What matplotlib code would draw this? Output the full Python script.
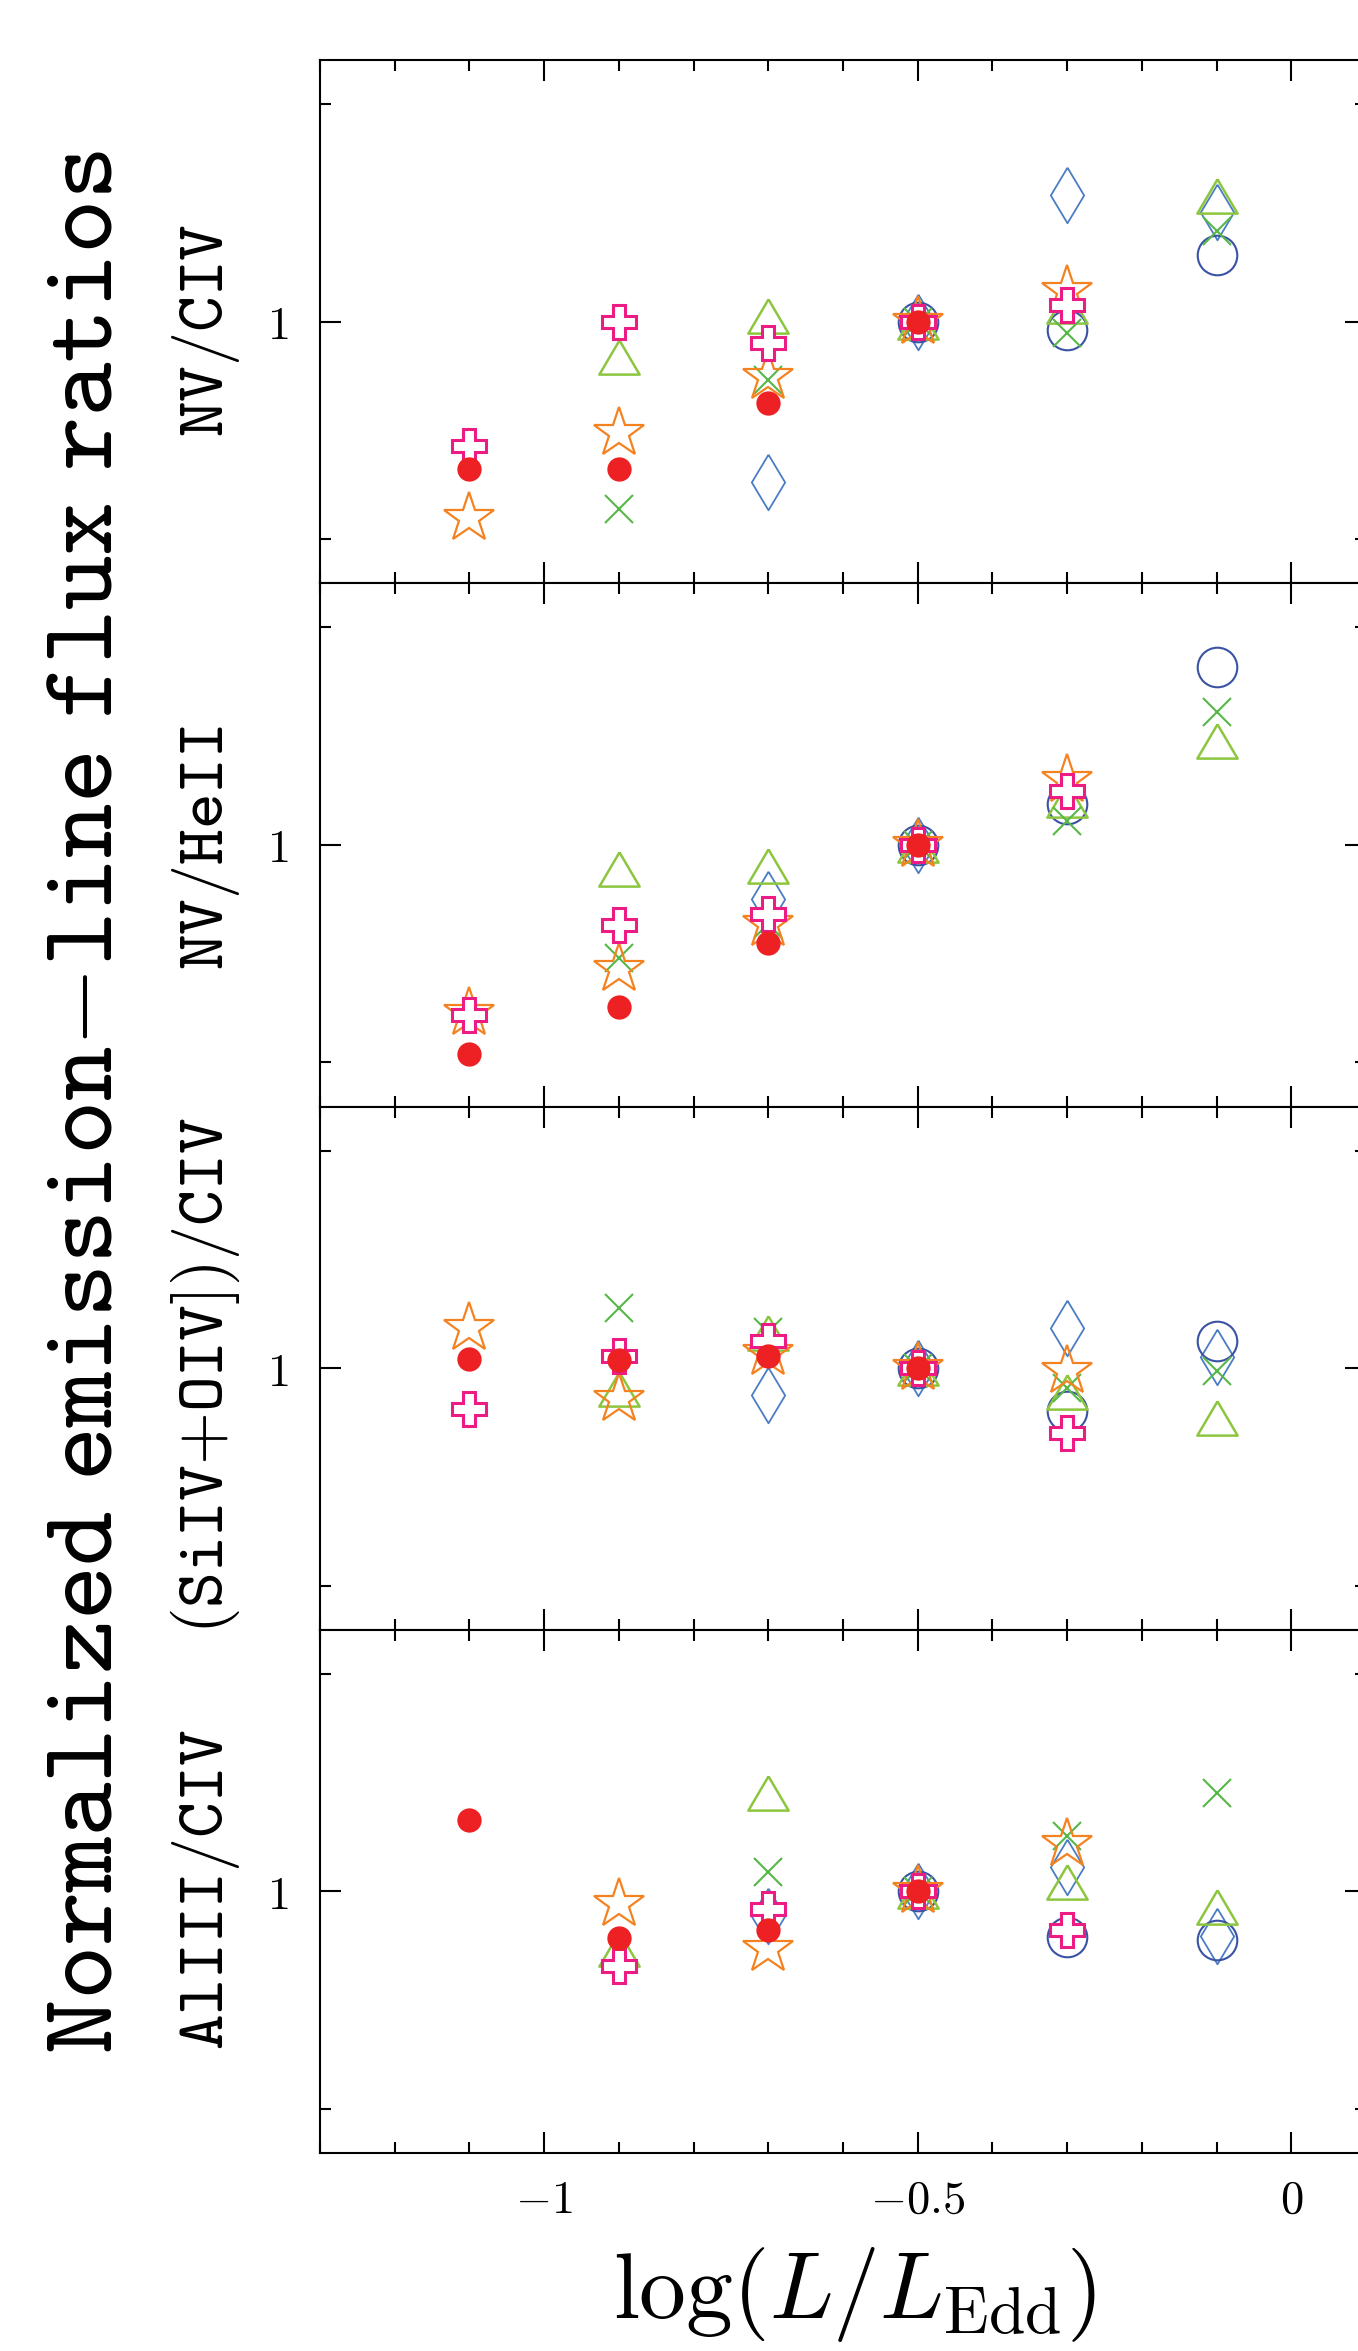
import numpy as np
import matplotlib
matplotlib.use("Agg")
import matplotlib.pyplot as plt
from matplotlib.markers import MarkerStyle
from matplotlib.ticker import MultipleLocator, FixedLocator, NullFormatter

plt.rcParams['mathtext.fontset'] = 'cm'

nan = np.nan

# x positions, log(L/L_Edd) bins
logL = [-1.1, -0.9, -0.7, -0.5, -0.3, -0.1]

panel_labels = [r'$\mathtt{NV/CIV}$', r'$\mathtt{NV/HeII}$',
                r'$\mathtt{(SiIV{+}OIV])/CIV}$', r'$\mathtt{AlIII/CIV}$']

# normalized ratios, one list per sample, per panel
# panel 1: NV/CIV
p1_dot   = [0.625, 0.625, 0.772, 1.0, nan, nan]
p1_star  = [0.535, 0.700, 0.839, 1.0, 1.101, nan]
p1_cross = [0.672, 1.000, 0.935, 1.0, 1.053, nan]
p1_x     = [nan, 0.551, 0.829, 1.0, 0.963, 1.336]
p1_tri   = [nan, 0.894, 1.017, 1.0, 1.050, 1.492]
p1_diam  = [nan, nan, 0.600, 1.0, 1.499, 1.420]
p1_circ  = [nan, nan, nan, 1.0, 0.973, 1.235]

# panel 2: NV/HeII
p2_dot   = [0.513, 0.596, 0.731, 1.0, nan, nan]
p2_star  = [0.586, 0.674, 0.777, 1.0, 1.230, nan]
p2_cross = [0.581, 0.775, 0.802, 1.0, 1.188, nan]
p2_x     = [nan, 0.697, 0.777, 1.0, 1.078, 1.527]
p2_tri   = [nan, 0.927, 0.936, 1.0, 1.155, 1.393]
p2_diam  = [nan, nan, 0.841, 1.0, nan, nan]
p2_circ  = [nan, nan, nan, 1.0, 1.139, 1.763]

# panel 3: (SiIV+OIV])/CIV
p3_dot   = [1.031, 1.025, 1.040, 1.0, nan, nan]
p3_star  = [1.135, 0.907, 1.048, 1.0, 0.992, nan]
p3_cross = [0.879, 1.041, 1.089, 1.0, 0.814, nan]
p3_x     = [nan, 1.213, 1.123, 1.0, 0.940, 0.990]
p3_tri   = [nan, 0.937, 1.117, 1.0, 0.928, 0.853]
p3_diam  = [nan, nan, 0.919, 1.0, 1.138, 1.037]
p3_circ  = [nan, nan, nan, 1.0, 0.872, 1.089]

# panel 4: AlIII/CIV
p4_dot   = [1.254, 0.863, 0.883, 1.0, nan, nan]
p4_star  = [nan, 0.960, 0.833, 1.0, 1.163, nan]
p4_cross = [nan, 0.788, 0.945, 1.0, 0.884, nan]
p4_x     = [nan, nan, 1.063, 1.0, 1.194, 1.369]
p4_tri   = [nan, 0.832, 1.369, 1.0, 1.031, 0.950]
p4_diam  = [nan, nan, 0.925, 1.0, 1.082, 0.866]
p4_circ  = [nan, nan, nan, 1.0, 0.865, 0.856]

panels = [
    [p1_diam, p1_circ, p1_tri, p1_x, p1_star, p1_cross, p1_dot],
    [p2_diam, p2_circ, p2_tri, p2_x, p2_star, p2_cross, p2_dot],
    [p3_diam, p3_circ, p3_tri, p3_x, p3_star, p3_cross, p3_dot],
    [p4_diam, p4_circ, p4_tri, p4_x, p4_star, p4_cross, p4_dot],
]

# marker styles, same order as in panels
diamond = [(0, 1), (0.6, 0), (0, -1), (-0.6, 0), (0, 1)]
triangle = [(0, 0.85), (1, -0.85), (-1, -0.85), (0, 0.85)]
styles = [
    dict(marker=diamond, ms=40, mfc='none', mec='#4a7dc4', mew=1.3),
    dict(marker='o', ms=28.5, mfc='none', mec='#3a52a3', mew=1.5),
    dict(marker=MarkerStyle(triangle, joinstyle='miter'), ms=29, mfc='none', mec='#8cc63f', mew=1.8),
    dict(marker='x', ms=20.5, mec='#57b848', mew=1.5),
    dict(marker=MarkerStyle('*', joinstyle='miter'), ms=38, mfc='none', mec='#f58220', mew=1.6),
    dict(marker=MarkerStyle('P', joinstyle='miter'), ms=24.5, mfc='white', mec='#ec1c84', mew=2.2),
    dict(marker='o', ms=17.5, mfc='#ed2024', mec='#ed2024', mew=0),
]

W, H = 1358, 2351
fig = plt.figure(figsize=(W / 100, H / 100), dpi=100)

left, width = 320 / W, 1046 / W
top0, ph = 60, 523.25
ylo, yhi = 2 ** -1.2034, 2 ** 1.2034

for i, series in enumerate(panels):
    top = top0 + i * ph
    ax = fig.add_axes([left, 1 - (top + ph) / H, width, ph / H])
    for vals, st in zip(series, styles):
        ax.plot(logL, vals, ls='none', **st)

    ax.set_yscale('log')
    ax.set_ylim(ylo, yhi)
    ax.set_yticks([1])
    ax.set_yticklabels([r'$1$'])
    ax.yaxis.set_minor_locator(FixedLocator([0.5, 2]))
    ax.yaxis.set_minor_formatter(NullFormatter())

    ax.set_xlim(-1.3, 0.1)
    ax.set_xticks([-1, -0.5, 0])
    ax.set_xticklabels([r'$-1$', r'$-0.5$', r'$0$'])
    ax.xaxis.set_minor_locator(MultipleLocator(0.1))

    ax.tick_params(which='both', direction='in', top=True, right=True, width=1.5,
                   labelsize=33.5)
    ax.tick_params(which='major', length=15)
    ax.tick_params(which='minor', length=8)
    ax.tick_params(axis='y', pad=23)
    ax.tick_params(axis='x', pad=18, labelbottom=(i == 3))
    for s in ax.spines.values():
        s.set_linewidth(1.5)

# panel labels
label_y = [330, 847, 1376, 1890]
for lab, yc in zip(panel_labels, label_y):
    fig.text(223 / W, 1 - yc / H, lab, fontsize=49, rotation=90,
             rotation_mode='anchor', ha='center', va='baseline')

fig.text(112 / W, 1 - 1102 / H, r'$\mathtt{Normalized\ emission{-}line\ flux\ ratios}$',
         fontsize=74.5, rotation=90, rotation_mode='anchor', ha='center', va='baseline')

fig.text(855 / W, 1 - 2318 / H, r'$\log(L/L_{\rm Edd})$', fontsize=67.5,
         ha='center', va='baseline')

fig.savefig('out.png', dpi=100)
